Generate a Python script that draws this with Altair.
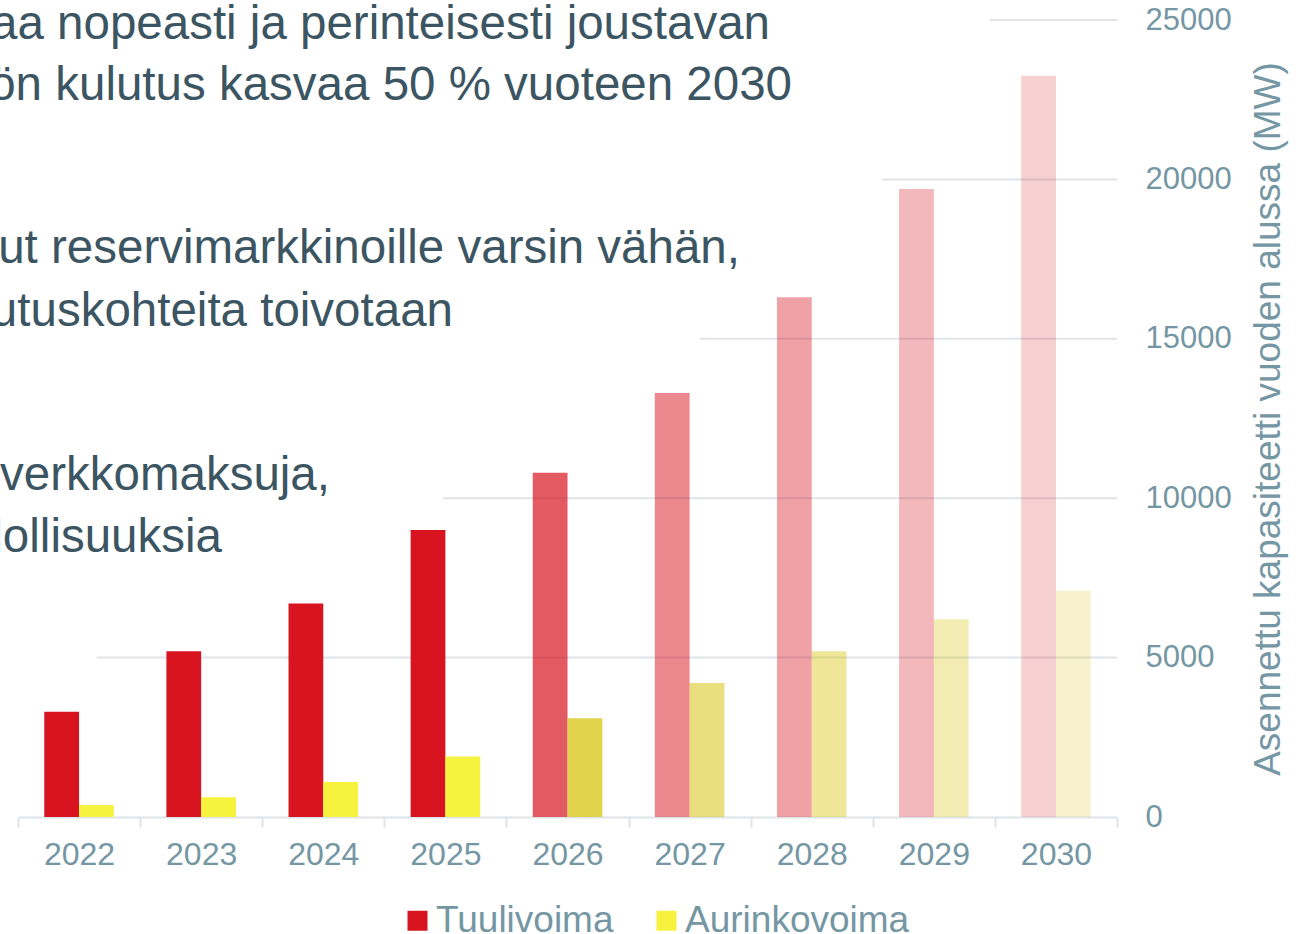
import altair as alt
import pandas as pd

# ---- data ----
vuodet = ["2022", "2023", "2024", "2025", "2026", "2027", "2028", "2029", "2030"]
tuulivoima = [3300, 5200, 6700, 9000, 10800, 13300, 16300, 19700, 23250]
aurinkovoima = [380, 620, 1100, 1900, 3100, 4200, 5200, 6200, 7100]
ennuste = [False, False, False, False, True, True, True, True, True]
peitto = [1, 1, 1, 1, 0.7, 0.5, 0.4, 0.3, 0.2]
y_ticks = [0, 5000, 10000, 15000, 20000, 25000]

tausta_rivit = [
    "aa nopeasti ja perinteisesti joustavan",
    "ön kulutus kasvaa 50 % vuoteen 2030",
    "ut reservimarkkinoille varsin vähän,",
    "utuskohteita toivotaan",
    "verkkomaksuja,",
    "mahdollisuuksia",
]

# ---- styles / layout ----
W, H = 1099, 797
PAD = {"left": 18, "top": 20, "right": 1309 - 18 - W, "bottom": 934 - 20 - H}
FONT = "Liberation Sans"
AXIS_COL = "#7596a3"
GRID_COL = "#dde4ea"
TEXT_COL = "#3c5562"
RED = "#d7141f"
YEL = "#f7f23e"
YEL_E = "#d6c000"
# right ends (x) and baselines (y) of the background slide text, page coords
rivi_x = [770, 792, 740, 453, 330, 222]
rivi_y = [39, 100, 263, 326, 490, 552]
grid_start = {5000: 97, 10000: 443, 15000: 700, 20000: 882, 25000: 990}

rows = []
for i, v in enumerate(vuodet):
    rows.append({"vuosi": v, "sarja": "1", "vari": "Tuulivoima",
                 "arvo": tuulivoima[i], "op": peitto[i]})
    rows.append({"vuosi": v, "sarja": "2",
                 "vari": "Aurinkovoima (ennuste)" if ennuste[i] else "Aurinkovoima",
                 "arvo": aurinkovoima[i], "op": peitto[i]})
df = pd.DataFrame(rows)

yscale = alt.Scale(domain=[0, 25000], nice=False, zero=True)
y_axis = alt.Axis(orient="right", values=y_ticks, format="d",
                  title="Asennettu kapasiteetti vuoden alussa (MW)",
                  titleAngle=270, titleFont=FONT, titleFontSize=37, titleFontWeight="normal",
                  titleColor=AXIS_COL, titleX=151, titleY=H / 2, titleAlign="center",
                  titleBaseline="middle",
                  labelFont=FONT, labelFontSize=31,
                  labelColor=AXIS_COL, labelPadding=28, ticks=False, tickSize=0,
                  domain=False, grid=False)

layers = []
for v, s in grid_start.items():
    layers.append(
        alt.Chart(pd.DataFrame({"v": [v]})).mark_rule(color=GRID_COL, strokeWidth=2).encode(
            y=alt.Y("v:Q", scale=yscale, axis=y_axis),
            x=alt.value(s - PAD["left"]), x2=alt.value(W),
        )
    )

bars = alt.Chart(df).mark_bar().encode(
    x=alt.X("vuosi:N", sort=vuodet,
            scale=alt.Scale(paddingInner=0, paddingOuter=0),
            axis=alt.Axis(title=None, labelAngle=0, labelFont=FONT, labelFontSize=32,
                          labelColor=AXIS_COL, labelPadding=12, domainColor=GRID_COL,
                          domainWidth=2, tickColor=GRID_COL, tickWidth=2, tickSize=10,
                          tickBand="extent", grid=False)),
    xOffset=alt.XOffset("sarja:N", scale=alt.Scale(paddingInner=0, paddingOuter=0.756)),
    y=alt.Y("arvo:Q", scale=yscale, axis=y_axis),
    color=alt.Color("vari:N",
                    scale=alt.Scale(domain=["Tuulivoima", "Aurinkovoima", "Aurinkovoima (ennuste)"],
                                    range=[RED, YEL, YEL_E]),
                    legend=alt.Legend(title=None, values=["Tuulivoima", "Aurinkovoima"],
                                      orient="none", direction="horizontal",
                                      legendX=381, legendY=882, symbolType="square",
                                      symbolSize=400, symbolStrokeWidth=0, symbolOpacity=1,
                                      labelFont=FONT, labelFontSize=37, labelColor=AXIS_COL,
                                      labelOffset=0, columnPadding=34, padding=0,
                                      labelLimit=400)),
    opacity=alt.Opacity("op:Q", scale=None),
)
layers.append(bars)

for t, x, y in zip(tausta_rivit, rivi_x, rivi_y):
    layers.append(
        alt.Chart(pd.DataFrame({"t": [t]})).mark_text(
            align="right", baseline="alphabetic", font=FONT, fontSize=47.5, color=TEXT_COL
        ).encode(text="t:N", x=alt.value(x - PAD["left"]), y=alt.value(y - PAD["top"]))
    )

chart = alt.layer(*layers).properties(
    width=W, height=H, padding=PAD,
    autosize=alt.AutoSizeParams(type="none"),
    background="white",
).configure_view(stroke=None)

chart.save("out.html", embed_options={"renderer": "svg", "actions": False})
